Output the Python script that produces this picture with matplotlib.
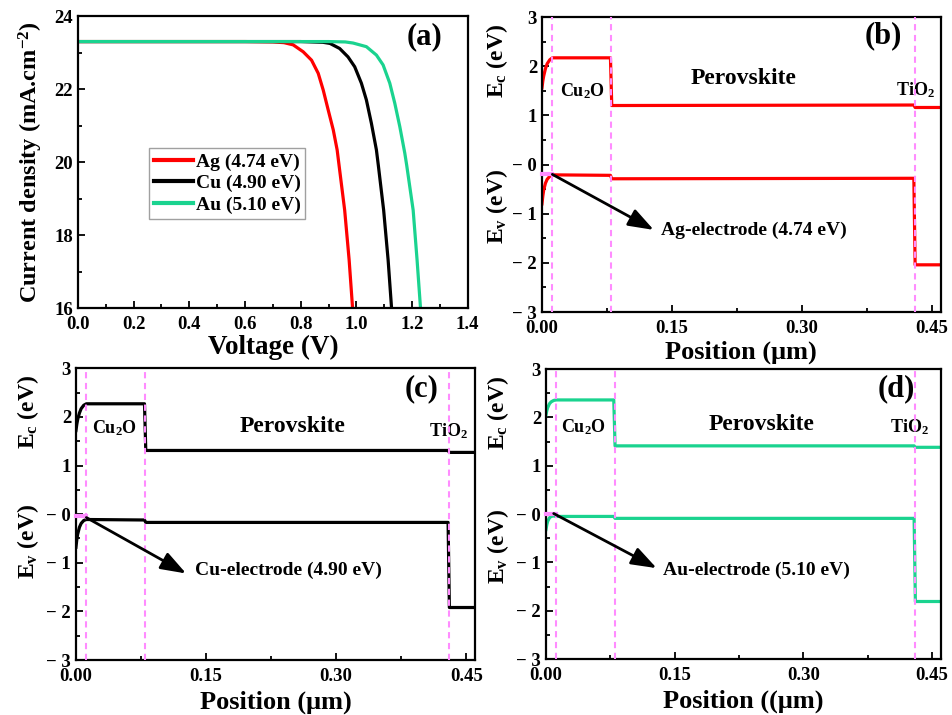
import matplotlib
matplotlib.use('Agg')
from matplotlib import pyplot as plt
from matplotlib.transforms import blended_transform_factory
from matplotlib.ticker import MultipleLocator

plt.rcParams['font.family'] = ['Liberation Serif', 'DejaVu Serif']
plt.rcParams['font.weight'] = 'bold'
plt.rcParams['mathtext.fontset'] = 'custom'
plt.rcParams['mathtext.rm'] = 'Liberation Serif:bold'
plt.rcParams['mathtext.bf'] = 'Liberation Serif:bold'
plt.rcParams['mathtext.it'] = 'Liberation Serif:bold:italic'

RED = '#ff0000'
BLACK = '#000000'
GREEN = '#1ad38f'
PINK = '#ff8cff'

# (a) J-V curves
v_ag = [0.0, 0.30, 0.60, 0.70, 0.74, 0.773, 0.809, 0.839, 0.863, 0.881, 0.899,
        0.917, 0.931, 0.938, 0.958, 0.974, 0.986, 0.99]
j_ag = [23.3, 23.3, 23.3, 23.29, 23.27, 23.21, 23.02, 22.79, 22.43, 21.97, 21.42,
        20.88, 20.33, 19.9, 18.68, 17.32, 16.04, 15.5]
v_cu = [0.0, 0.30, 0.60, 0.80, 0.88, 0.905, 0.940, 0.970, 0.994, 1.018, 1.036,
        1.054, 1.072, 1.079, 1.098, 1.114, 1.126, 1.13]
j_cu = [23.3, 23.3, 23.3, 23.3, 23.28, 23.25, 23.11, 22.88, 22.61, 22.16, 21.70,
        21.06, 20.33, 19.9, 18.68, 17.32, 16.04, 15.5]
v_au = [0.0, 0.30, 0.60, 0.90, 0.96, 0.988, 1.036, 1.072, 1.096, 1.120, 1.138,
        1.156, 1.174, 1.181, 1.204, 1.218, 1.230, 1.234]
j_au = [23.3, 23.3, 23.3, 23.3, 23.29, 23.26, 23.16, 22.93, 22.66, 22.16, 21.61,
        20.97, 20.24, 19.9, 18.68, 17.32, 16.04, 15.5]
jv_labels = ['Ag (4.74 eV)', 'Cu (4.90 eV)', 'Au (5.10 eV)']

# band diagrams: position (um) and energies (eV)
pos = [0.0, 0.001, 0.002, 0.004, 0.006, 0.009, 0.012, 0.079, 0.0805, 0.429, 0.4305, 0.46]
ec_ag = [1.56, 1.70, 1.80, 1.95, 2.05, 2.13, 2.17, 2.17, 1.20, 1.21, 1.16, 1.16]
ev_ag = [-0.80, -0.64, -0.52, -0.38, -0.30, -0.24, -0.21, -0.22, -0.29, -0.28, -2.04, -2.04]
ec_cu = [1.72, 1.85, 1.95, 2.08, 2.17, 2.24, 2.27, 2.27, 1.31, 1.31, 1.27, 1.27]
ev_cu = [-0.68, -0.52, -0.41, -0.27, -0.19, -0.13, -0.11, -0.12, -0.17, -0.17, -1.92, -1.92]
ec_au = [2.05, 2.14, 2.20, 2.28, 2.32, 2.35, 2.36, 2.36, 1.41, 1.41, 1.38, 1.38]
ev_au = [-0.32, -0.22, -0.15, -0.08, -0.05, -0.04, -0.05, -0.05, -0.09, -0.09, -1.81, -1.81]
interfaces = [0.012, 0.08, 0.43]
fermi = [-0.19, -0.04, 0.01]
electrodes = ['Ag-electrode (4.74 eV)', 'Cu-electrode (4.90 eV)', 'Au-electrode (5.10 eV)']
ytick_vals = [3, 2, 1, 0, -1, -2, -3]
ytick_text = ['3', '2', '1', '\u2212 0', '\u2212 1', '\u2212 2', '\u2212 3']


def style(ax):
    for s in ax.spines.values():
        s.set_linewidth(1.6)
    ax.tick_params(which='both', direction='in', width=1.3, labelsize=13.5,
                   top=False, right=False)
    ax.tick_params(which='major', length=5)
    ax.tick_params(which='minor', length=3)
    ax.tick_params(axis='x', pad=6)


fig = plt.figure(figsize=(9.53, 7.15), dpi=100)

# ---- panel (a)
ax = fig.add_axes([0.0818, 0.5692, 0.409, 0.4084])
ax.plot(v_ag, j_ag, color=RED, lw=2.3, label=jv_labels[0])
ax.plot(v_cu, j_cu, color=BLACK, lw=2.3, label=jv_labels[1])
ax.plot(v_au, j_au, color=GREEN, lw=2.3, label=jv_labels[2])
ax.set_xlim(0, 1.4)
ax.set_ylim(16, 24)
ax.xaxis.set_major_locator(MultipleLocator(0.2))
ax.xaxis.set_minor_locator(MultipleLocator(0.1))
ax.yaxis.set_major_locator(MultipleLocator(2))
ax.yaxis.set_minor_locator(MultipleLocator(1))
style(ax)
ax.set_xlabel('Voltage (V)', fontsize=19.5, fontweight='bold', va='center')
ax.set_ylabel('Current density (mA.cm$^{\\mathrm{-2}}$)', fontsize=17.5,
              fontweight='bold', va='center')
ax.xaxis.set_label_coords(0.5, -0.134)
ax.yaxis.set_label_coords(-0.12, 0.5)
ax.text(0.89, 0.93, '(a)', transform=ax.transAxes, fontsize=22,
        fontweight='bold', ha='center', va='center')
leg = ax.legend(loc='upper left', bbox_to_anchor=(0.182, 0.548), fontsize=14,
                frameon=True, fancybox=False, edgecolor='#888888',
                handlelength=2.0, handletextpad=0.15, borderpad=0.25,
                labelspacing=0.2, borderaxespad=0)
leg.get_frame().set_linewidth(1.0)
for line in leg.get_lines():
    line.set_linewidth(3)

# ---- band panels
panels = [
    dict(rect=[0.5687, 0.5636, 0.4184, 0.4126], ec=ec_ag, ev=ev_ag, color=RED,
         tag='(b)', tagpos=(0.856, 0.938), ylx=-0.112, ecy=2.1, evy=-0.85,
         cu2o=(0.047, 1.49), pero=(0.233, 1.75), tio2=(0.431, 1.52),
         arrow=((0.012, -0.2), (0.129, -1.33)), txt=(0.137, -1.34),
         xlabel='Position (\u03bcm)', xly=-0.136),
    dict(rect=[0.0797, 0.0769, 0.4187, 0.408], ec=ec_cu, ev=ev_cu, color=BLACK,
         tag='(c)', tagpos=(0.866, 0.931), ylx=-0.12, ecy=2.1, evy=-0.57,
         cu2o=(0.045, 1.77), pero=(0.25, 1.8), tio2=(0.43, 1.7),
         arrow=((0.012, -0.07), (0.127, -1.22)), txt=(0.137, -1.16),
         xlabel='Position (\u03bcm)', xly=-0.144),
    dict(rect=[0.5729, 0.0783, 0.4142, 0.4056], ec=ec_au, ev=ev_au, color=GREEN,
         tag='(d)', tagpos=(0.887, 0.933), ylx=-0.122, ecy=2.1, evy=-0.68,
         cu2o=(0.044, 1.79), pero=(0.251, 1.86), tio2=(0.424, 1.79),
         arrow=((0.009, 0.01), (0.129, -1.12)), txt=(0.136, -1.16),
         xlabel='Position ((\u03bcm)', xly=-0.147),
]

for i, p in enumerate(panels):
    ax = fig.add_axes(p['rect'])
    ax.plot(pos, p['ec'], color=p['color'], lw=2.3)
    ax.plot(pos, p['ev'], color=p['color'], lw=2.3)
    for xv in interfaces:
        ax.axvline(xv, color=PINK, lw=1.5, ls=(0, (3, 2.2)), zorder=5)
    ax.plot([0, 0.012], [fermi[i], fermi[i]], color=PINK, lw=3, zorder=6,
            clip_on=False)
    ax.set_xlim(0, 0.46)
    ax.set_ylim(-3, 3)
    ax.set_xticks([0, 0.15, 0.30, 0.45])
    ax.set_xticklabels(['0.00', '0.15', '0.30', '0.45'])
    ax.xaxis.set_minor_locator(MultipleLocator(0.075))
    ax.set_yticks(ytick_vals)
    ax.set_yticklabels(ytick_text)
    ax.yaxis.set_minor_locator(MultipleLocator(0.5))
    style(ax)
    ax.set_xlabel(p['xlabel'], fontsize=19, fontweight='bold', va='center')
    ax.xaxis.set_label_coords(0.5, p['xly'])
    tr = blended_transform_factory(ax.transAxes, ax.transData)
    ax.text(p['ylx'], p['ecy'], 'E$_{\\mathrm{c}}$ (eV)', transform=tr,
            rotation=90, fontsize=17, fontweight='bold', ha='center', va='center')
    ax.text(p['ylx'], p['evy'], 'E$_{\\mathrm{v}}$ (eV)', transform=tr,
            rotation=90, fontsize=17, fontweight='bold', ha='center', va='center')
    ax.text(p['tagpos'][0], p['tagpos'][1], p['tag'], transform=ax.transAxes,
            fontsize=22, fontweight='bold', ha='center', va='center')
    ax.text(*p['cu2o'], 'Cu$_{\\mathrm{2}}$O', fontsize=13, fontweight='bold',
            ha='center', va='center')
    ax.text(*p['pero'], 'Perovskite', fontsize=17, fontweight='bold',
            ha='center', va='center')
    ax.text(*p['tio2'], 'TiO$_{\\mathrm{2}}$', fontsize=13, fontweight='bold',
            ha='center', va='center')
    ax.annotate('', xy=p['arrow'][1], xytext=p['arrow'][0],
                arrowprops=dict(arrowstyle='-|>,head_length=0.7,head_width=0.25',
                                color='k', lw=2, mutation_scale=22,
                                shrinkA=0, shrinkB=0),
                zorder=7)
    ax.text(*p['txt'], electrodes[i], fontsize=14, fontweight='bold',
            ha='left', va='center')

fig.savefig('out.png', dpi=100)
